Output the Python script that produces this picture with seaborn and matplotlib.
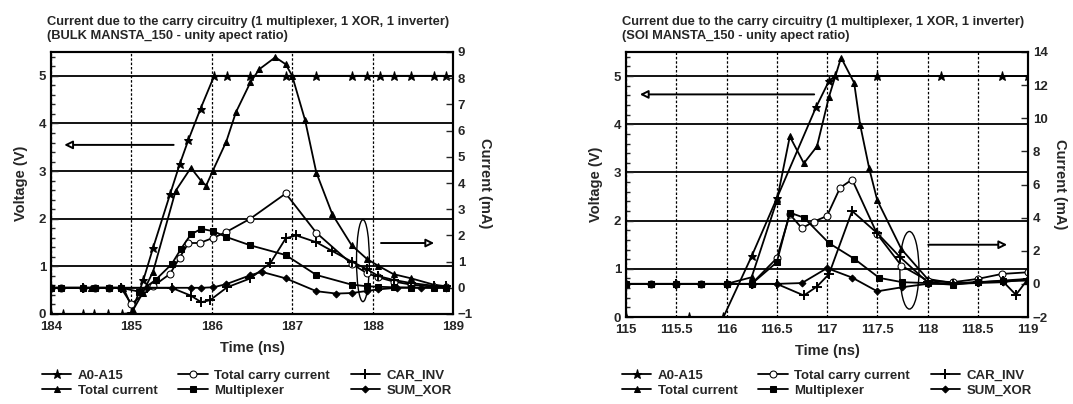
import seaborn as sns
import matplotlib.pyplot as plt
from matplotlib.patches import Ellipse
from matplotlib.ticker import MultipleLocator, FormatStrFormatter

sns.set_style('white')
plt.rcParams['font.family'] = ['Liberation Sans', 'DejaVu Sans']
plt.rcParams['font.weight'] = 'bold'
plt.rcParams['axes.labelweight'] = 'bold'

# ---------------- BULK panel (t in ns, A0-A15 in V, the rest in mA) ----------------
bulk_a0_t = [184.0, 184.15, 184.4, 184.54, 184.71, 184.88, 185.0, 185.15, 185.27, 185.48, 185.6, 185.71,
             185.86, 186.03, 186.19, 186.48, 186.92, 187.3, 187.74, 187.93, 188.09, 188.26, 188.48, 188.76, 188.91]
bulk_a0_v = [0, 0, 0, 0, 0, 0, 0.02, 0.72, 1.39, 2.51, 3.14, 3.66,
             4.31, 5.0, 5.0, 5.0, 5.0, 5.0, 5.0, 5.0, 5.0, 5.0, 5.0, 5.0, 5.0]

bulk_tot_t = [184.0, 184.5, 184.9, 185.02, 185.14, 185.27, 185.55, 185.74, 185.87, 185.93, 186.01, 186.18,
              186.3, 186.48, 186.59, 186.79, 186.92, 187.0, 187.16, 187.3, 187.5, 187.74, 187.93, 188.07,
              188.26, 188.48, 188.76, 188.91]
bulk_tot_i = [0, 0, 0, -0.85, -0.2, 0.62, 3.7, 4.58, 4.07, 3.9, 4.45, 5.58,
              6.7, 7.84, 8.34, 8.8, 8.53, 8.09, 6.4, 4.4, 2.8, 1.62, 1.1, 0.84,
              0.52, 0.36, 0.12, 0.06]

bulk_carry_t = [184.0, 184.12, 184.4, 184.55, 184.72, 184.87, 185.0, 185.27, 185.48, 185.6, 185.71, 185.85,
                186.02, 186.18, 186.48, 186.92, 187.3, 187.74, 187.93, 188.07, 188.26, 188.48, 188.76, 188.91]
bulk_carry_i = [0, 0, 0, 0, 0, 0, -0.62, 0.06, 0.53, 1.15, 1.71, 1.71,
                1.91, 2.13, 2.64, 3.6, 2.1, 0.91, 0.56, 0.4, 0.24, 0.12, 0.04, 0.02]

bulk_mux_t = [184.0, 184.12, 184.4, 184.55, 184.72, 184.87, 185.1, 185.3, 185.5, 185.62, 185.74, 185.87,
              186.02, 186.18, 186.48, 186.92, 187.3, 187.74, 187.93, 188.07, 188.26, 188.48, 188.76, 188.91]
bulk_mux_i = [0, 0, 0, 0, 0, 0, -0.15, 0.3, 0.9, 1.5, 2.04, 2.25,
              2.16, 1.94, 1.62, 1.25, 0.49, 0.12, 0.06, 0.04, 0.02, 0.01, 0.0, 0.0]

bulk_inv_t = [184.0, 184.4, 184.87, 185.2, 185.5, 185.74, 185.87, 185.98, 186.19, 186.48, 186.73, 186.92,
              187.05, 187.3, 187.5, 187.74, 187.93, 188.07, 188.26, 188.48, 188.76, 188.91]
bulk_inv_i = [0, 0, 0, 0, 0, -0.3, -0.55, -0.47, 0.02, 0.36, 0.95, 1.89,
              2.0, 1.74, 1.4, 1.0, 0.71, 0.45, 0.3, 0.18, 0.08, 0.05]

bulk_xor_t = [184.0, 184.4, 184.87, 185.2, 185.5, 185.74, 185.87, 186.02, 186.18, 186.48, 186.62, 186.92,
              187.3, 187.55, 187.74, 187.93, 188.07, 188.3, 188.6, 188.91]
bulk_xor_i = [0, 0, 0, 0, 0, 0, 0, 0.02, 0.14, 0.48, 0.61, 0.36,
              -0.13, -0.22, -0.2, -0.12, -0.06, 0.0, 0.0, 0.0]

# ---------------- SOI panel ----------------
soi_a0_t = [115.0, 115.63, 115.97, 116.25, 116.5, 116.89, 117.02, 117.08, 117.5, 118.13, 118.74, 119.0]
soi_a0_v = [0, 0, 0, 1.26, 2.46, 4.35, 4.9, 5.0, 5.0, 5.0, 5.0, 5.0]

soi_tot_t = [115.0, 115.25, 115.5, 115.75, 116.0, 116.25, 116.5, 116.63, 116.77, 116.9, 117.02, 117.14,
             117.27, 117.33, 117.42, 117.5, 117.74, 118.0, 118.25, 118.5, 118.75, 119.0]
soi_tot_i = [0, 0, 0, 0, 0, 0.4, 5.0, 8.9, 7.28, 8.3, 11.3, 13.66,
             12.14, 9.6, 6.97, 5.05, 2.1, 0.3, 0.05, 0.1, 0.2, 0.3]

soi_carry_t = [115.0, 115.25, 115.5, 115.75, 116.0, 116.25, 116.5, 116.63, 116.75, 116.87, 117.0, 117.13,
               117.25, 117.5, 117.74, 118.0, 118.25, 118.5, 118.74, 119.0]
soi_carry_i = [0, 0, 0, 0, 0, 0, 1.55, 4.2, 3.36, 3.76, 4.1, 5.8,
               6.3, 3.0, 1.1, 0.2, 0.1, 0.3, 0.6, 0.7]

soi_mux_t = [115.0, 115.25, 115.5, 115.75, 116.0, 116.25, 116.5, 116.63, 116.77, 117.02, 117.27, 117.52,
             117.75, 118.0, 118.25, 118.5, 118.75, 119.0]
soi_mux_i = [0, 0, 0, 0, 0, 0, 1.3, 4.3, 4.0, 2.46, 1.52, 0.36,
             0.1, 0.05, -0.05, 0.1, 0.16, 0.2]

soi_inv_t = [115.0, 115.5, 116.0, 116.25, 116.5, 116.77, 116.9, 117.02, 117.25, 117.5, 117.73, 118.0,
             118.25, 118.5, 118.75, 118.88, 119.0]
soi_inv_i = [0, 0, 0, 0, 0, -0.7, -0.16, 0.59, 4.4, 3.06, 1.6, 0.1,
             0.0, 0.1, 0.15, -0.66, 0.3]

soi_xor_t = [115.0, 115.5, 116.0, 116.5, 116.75, 117.0, 117.25, 117.5, 117.75, 118.0, 118.25, 118.5,
             118.75, 119.0]
soi_xor_i = [0, 0, 0, 0, 0.05, 0.95, 0.38, -0.45, -0.2, 0.0, 0.0, 0.05, 0.1, 0.3]

names = ['A0-A15', 'Total current', 'Total carry current', 'Multiplexer', 'CAR_INV', 'SUM_XOR']
styles = {
    'A0-A15': dict(marker='*', markersize=6.5),
    'Total current': dict(marker='^', markersize=5),
    'Total carry current': dict(marker='o', markersize=5, markerfacecolor='white'),
    'Multiplexer': dict(marker='s', markersize=4.5),
    'CAR_INV': dict(marker='+', markersize=7, markeredgewidth=1.4),
    'SUM_XOR': dict(marker='D', markersize=3.5),
}

fig = plt.figure(figsize=(10.73, 4.04), dpi=100)


def panel(rect, title, series, xlim, xstep, i_lim, i_step, arrows, ell, leg_x):
    ax = fig.add_axes(rect)
    ax2 = ax.twinx()
    for name in names:
        t, y = series[name]
        target = ax if name == 'A0-A15' else ax2
        sns.lineplot(x=t, y=y, ax=target, color='black', linewidth=1.3,
                     markeredgecolor='black', label=name, legend=False, **styles[name])
    ax.set_xlim(*xlim)
    ax.set_ylim(0, 5.5)
    ax2.set_ylim(*i_lim)
    ax.xaxis.set_major_locator(MultipleLocator(xstep))
    ax.xaxis.set_major_formatter(FormatStrFormatter('%g'))
    ax.xaxis.set_minor_locator(MultipleLocator(0.1))
    ax.yaxis.set_major_locator(MultipleLocator(1))
    ax.yaxis.set_minor_locator(MultipleLocator(0.2))
    ax2.yaxis.set_major_locator(MultipleLocator(i_step))
    ax.grid(axis='y', which='major', color='black', linewidth=1.3, linestyle='-')
    ax.grid(axis='x', which='major', color='black', linewidth=0.9, linestyle=(0, (2, 1.5)))
    ax.tick_params(which='both', direction='in', labelsize=9.5, width=1)
    ax.tick_params(which='major', length=5)
    ax.tick_params(which='minor', length=3)
    ax.tick_params(axis='x', which='major', pad=5)
    ax2.tick_params(direction='in', labelsize=9.5, length=5, width=1)
    for a in (ax, ax2):
        for s in a.spines.values():
            s.set_linewidth(1.5)
            s.set_color('black')
    ax.set_xlabel('Time (ns)', fontsize=10.5, fontweight='bold', labelpad=6)
    ax.set_ylabel('Voltage (V)', fontsize=10.5, fontweight='bold', labelpad=8)
    ax2.set_ylabel('Current (mA)', fontsize=10.5, fontweight='bold', rotation=270, labelpad=14)
    for lab in ax.get_xticklabels() + ax.get_yticklabels() + ax2.get_yticklabels():
        lab.set_fontweight('bold')
    ax.set_title(title, loc='left', fontsize=9.3, fontweight='bold', pad=9, x=-0.01, linespacing=1.3)
    for (x0, x1, yv) in arrows:
        ax.annotate('', xy=(x1, yv), xytext=(x0, yv),
                    arrowprops=dict(arrowstyle='-|>', color='black', fc='white', lw=1.4,
                                    mutation_scale=12))
    ax.add_patch(Ellipse(ell[:2], ell[2], ell[3], fill=False, ec='black', lw=1, zorder=5))
    h1, l1 = ax.get_legend_handles_labels()
    h2, l2 = ax2.get_legend_handles_labels()
    fig.legend(h1 + h2, l1 + l2, ncol=3, loc='upper left', bbox_to_anchor=(leg_x, 0.085),
               frameon=False, handlelength=2.2, handletextpad=0.5,
               columnspacing=1.6, labelspacing=0.2, borderaxespad=0, borderpad=0,
               prop=dict(weight='bold', size=9.5))
    return ax


bulk = {
    'A0-A15': (bulk_a0_t, bulk_a0_v), 'Total current': (bulk_tot_t, bulk_tot_i),
    'Total carry current': (bulk_carry_t, bulk_carry_i), 'Multiplexer': (bulk_mux_t, bulk_mux_i),
    'CAR_INV': (bulk_inv_t, bulk_inv_i), 'SUM_XOR': (bulk_xor_t, bulk_xor_i),
}
soi = {
    'A0-A15': (soi_a0_t, soi_a0_v), 'Total current': (soi_tot_t, soi_tot_i),
    'Total carry current': (soi_carry_t, soi_carry_i), 'Multiplexer': (soi_mux_t, soi_mux_i),
    'CAR_INV': (soi_inv_t, soi_inv_i), 'SUM_XOR': (soi_xor_t, soi_xor_i),
}

panel([51 / 1073, 90 / 404, 402 / 1073, 262 / 404],
      'Current due to the carry circuitry (1 multiplexer, 1 XOR, 1 inverter)\n(BULK MANSTA_150 - unity apect ratio)',
      bulk, (184, 189), 1, (-1, 9), 1,
      [(185.56, 184.13, 3.55), (188.07, 188.8, 1.49)], (187.88, 1.12, 0.16, 1.72), 42 / 1073)
panel([626 / 1073, 87 / 404, 402 / 1073, 265 / 404],
      'Current due to the carry circuitry (1 multiplexer, 1 XOR, 1 inverter)\n(SOI MANSTA_150 - unity apect ratio)',
      soi, (115, 119), 0.5, (-2, 14), 2,
      [(116.9, 115.11, 4.62), (117.98, 118.82, 1.5)], (117.82, 0.97, 0.19, 1.61), 622 / 1073)

fig.savefig('out.png', dpi=100)
